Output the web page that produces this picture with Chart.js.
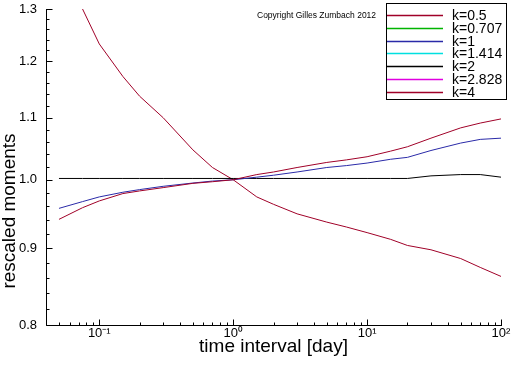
<!DOCTYPE html>
<html><head><meta charset="utf-8">
<style>html,body{margin:0;padding:0;background:#fff}#wrap{width:512px;height:366px;position:relative}canvas{display:block}</style>
<script src="https://cdn.jsdelivr.net/npm/chart.js@4/dist/chart.umd.min.js"></script>
</head><body><div id="wrap"><canvas id="c" width="512" height="366"></canvas></div>
<script>
// ---- data ----
const timeInterval = [0.05, 0.075, 0.1, 0.15, 0.2, 0.3, 0.5, 0.7, 1, 1.5, 2, 3, 5, 7, 10, 15, 20, 30, 50, 70, 100];
const k0_5   = [0.941, 0.958, 0.968, 0.979, 0.983, 0.988, 0.9945, 0.997, 1.0, 1.008, 1.012, 1.019, 1.027, 1.031, 1.036, 1.045, 1.052, 1.066, 1.083, 1.091, 1.098];
const k0_707 = [];
const k1     = [0.957, 0.967, 0.974, 0.981, 0.985, 0.990, 0.995, 0.998, 1.0, 1.004, 1.007, 1.012, 1.019, 1.022, 1.026, 1.032, 1.035, 1.046, 1.058, 1.064, 1.066];
const k1_414 = [];
const k2     = [1.002, 1.002, 1.002, 1.002, 1.002, 1.002, 1.002, 1.002, 1.002, 1.002, 1.002, 1.002, 1.002, 1.002, 1.002, 1.002, 1.002, 1.006, 1.008, 1.008, 1.004];
const k2_828 = [];
const k4     = [1.39, 1.30, 1.232, 1.172, 1.137, 1.100, 1.047, 1.019, 1.0, 0.974, 0.963, 0.949, 0.937, 0.930, 0.922, 0.9125, 0.904, 0.898, 0.886, 0.874, 0.862];
const seriesLabels = ['k=0.5', 'k=0.707', 'k=1', 'k=1.414', 'k=2', 'k=2.828', 'k=4'];
const xTickValues = [0.1, 1, 10, 100];
const xTickLabels = ['10\u207B\u00B9', '10\u2070', '10\u00B9', '10\u00B2'];
const yTickValues = [0.8, 0.9, 1.0, 1.1, 1.2, 1.3];
const yTickLabels = ['0.8', '0.9', '1.0', '1.1', '1.2', '1.3'];
const xTitle = 'time interval [day]';
const yTitle = 'rescaled moments';
const copyrightText = 'Copyright Gilles Zumbach 2012';

const seriesValues = [k0_5, k0_707, k1, k1_414, k2, k2_828, k4];
const seriesColors = ['#a00028', '#00b400', '#2a2aa8', '#00e0e0', '#000000', '#e000e0', '#a00028'];
const FONT = "'Liberation Sans', Arial, sans-serif";

const datasets = seriesValues.map((vals, i) => ({
  label: seriesLabels[i],
  data: vals.map((v, j) => ({x: timeInterval[j], y: v})),
  borderColor: seriesColors[i],
  backgroundColor: seriesColors[i],
  borderWidth: 1,
  pointRadius: 0,
  tension: 0,
  fill: false
}));

const decorPlugin = {
  id: 'decor',
  afterDraw(chart) {
    const ctx = chart.ctx, a = chart.chartArea;
    const xs = chart.scales.x, ys = chart.scales.y;
    ctx.save();
    ctx.strokeStyle = '#000'; ctx.lineWidth = 1;
    const L = Math.round(a.left) + 0.5, B = Math.round(a.bottom) + 0.5;
    ctx.beginPath();
    ctx.moveTo(L, Math.round(a.top)); ctx.lineTo(L, B);
    ctx.lineTo(Math.round(a.right) + 1, B);
    ctx.stroke();
    ctx.beginPath();
    for (let d = -2; d <= 2; d++) {
      for (let m = 1; m <= 9; m++) {
        const v = m * Math.pow(10, d);
        if (v < xs.min * 0.999 || v > xs.max * 1.001) continue;
        const px = Math.round(xs.getPixelForValue(v)) + 0.5;
        const len = m === 1 ? 6 : 3;
        ctx.moveTo(px, B); ctx.lineTo(px, B - len);
      }
    }
    for (let i = 40; i <= 65; i++) {
      const v = i / 50;
      const py = Math.round(ys.getPixelForValue(v)) + 0.5;
      const len = i % 5 === 0 ? 6 : 3;
      ctx.moveTo(L, py); ctx.lineTo(L + len, py);
    }
    ctx.stroke();
    ctx.fillStyle = '#000';
    ctx.font = '19px ' + FONT;
    ctx.textAlign = 'center'; ctx.textBaseline = 'alphabetic';
    ctx.fillText(xTitle, (a.left + a.right) / 2, 352);
    ctx.save();
    ctx.translate(15, 211); ctx.rotate(-Math.PI / 2);
    ctx.fillText(yTitle, 0, 0);
    ctx.restore();
    ctx.font = '8.5px ' + FONT;
    ctx.textAlign = 'left'; ctx.textBaseline = 'middle';
    ctx.fillText(copyrightText, 257, 16);
    ctx.fillStyle = '#fff';
    ctx.fillRect(386, 3, 121, 97);
    ctx.strokeStyle = '#000';
    ctx.strokeRect(386.5, 3.5, 120, 96);
    ctx.font = '14px ' + FONT;
    chart.data.datasets.forEach((ds, i) => {
      const y = Math.round(15 + i * 12.8) + 0.5;
      ctx.strokeStyle = seriesColors[i];
      ctx.lineWidth = 1.3;
      ctx.beginPath(); ctx.moveTo(387, y); ctx.lineTo(443, y); ctx.stroke();
      ctx.fillStyle = '#000';
      ctx.fillText(ds.label, 452, y + 0.5);
    });
    ctx.restore();
  }
};

new Chart(document.getElementById('c'), {
  type: 'line',
  data: {datasets},
  options: {
    responsive: false,
    animation: false,
    layout: {padding: {top: 9, right: 11, left: 0, bottom: 0}},
    plugins: {legend: {display: false}, tooltip: {enabled: false}},
    scales: {
      x: {
        type: 'logarithmic', min: 0.04, max: 100,
        afterFit(s) { s.height = 41; s.paddingLeft = 0; s.paddingRight = 0; },
        afterBuildTicks(s) { s.ticks = xTickValues.map(v => ({value: v})); },
        ticks: {
          callback: (v) => { const i = xTickValues.findIndex(t => Math.abs(t - v) < 1e-9); return i >= 0 ? xTickLabels[i] : ''; },
          font: {size: 13, family: FONT}, color: '#000', padding: 1, maxRotation: 0, autoSkip: false
        },
        grid: {display: false, drawTicks: false},
        border: {display: false}
      },
      y: {
        type: 'logarithmic', min: 0.8, max: 1.3,
        afterFit(s) { s.width = 46; s.paddingTop = 0; s.paddingBottom = 0; },
        afterBuildTicks(s) { s.ticks = yTickValues.map(v => ({value: v})); },
        ticks: {
          callback: (v) => { const i = yTickValues.findIndex(t => Math.abs(t - v) < 1e-9); return i >= 0 ? yTickLabels[i] : ''; },
          font: {size: 13, family: FONT}, color: '#000', padding: 9, autoSkip: false
        },
        grid: {display: false, drawTicks: false},
        border: {display: false}
      }
    }
  },
  plugins: [decorPlugin]
});
</script>
</body></html>
